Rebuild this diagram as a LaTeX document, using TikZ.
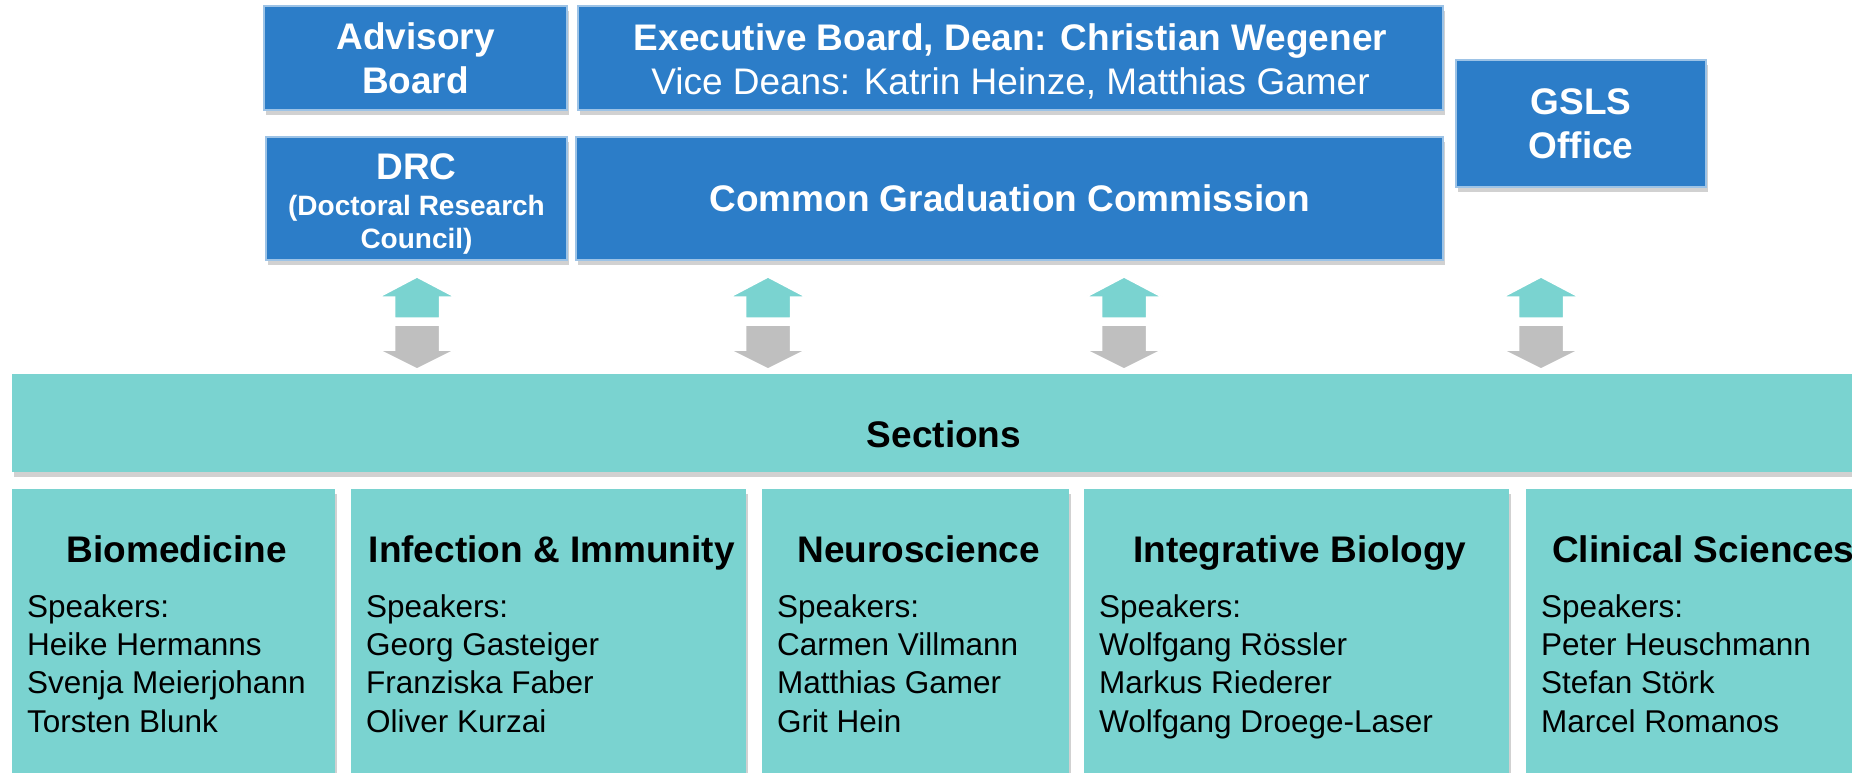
\documentclass[tikz,border=0pt]{standalone}
\usepackage{fontspec}
\setmainfont{Liberation Sans}
\usetikzlibrary{calc,shadows}

\definecolor{gslsblue}{RGB}{44,125,200}
\definecolor{gslsedge}{RGB}{157,195,230}
\definecolor{gslsteal}{RGB}{122,211,208}
\definecolor{gslsgrey}{RGB}{191,191,191}

\begin{document}
\begin{tikzpicture}[x = 1pt, y = -1pt,
	soft shadow/.style = {drop shadow = {shadow xshift = 2pt, shadow yshift = -5pt, fill = black, opacity = 0.18}},
	board/.style = {rectangle, fill = gslsblue, draw = gslsedge, line width = 1.2pt, soft shadow, text = white, align = center, inner sep = 0pt, font = \bfseries\fontsize{37}{44}\selectfont},
	section box/.style = {rectangle, fill = gslsteal, soft shadow, inner sep = 0pt, anchor = north west},
	section title/.style = {anchor = base, font = \bfseries\fontsize{37}{44}\selectfont},
	speaker list/.style = {anchor = north west, align = left, inner sep = 0pt, font = \fontsize{31.5}{38.3}\selectfont}]

	% Definitions

	\def\W{1852}	% Width of picture
	\def\H{773}		% Height of picture
	\def\T{489}		% Top of section boxes

	\useasboundingbox (0, 0) rectangle (\W, \H);
	\clip (0, 0) rectangle (\W, \H);

	% Draw boards

	\node [board, minimum width = 303, minimum height = 104] (advisory) at (415.5, 58) {Advisory\\Board};
	\node [board, minimum width = 865, minimum height = 104] (executive) at (1010.5, 58)
		{\rule{0pt}{33pt}Executive Board, Dean: Christian Wegener\\\mdseries Vice Deans: Katrin Heinze, Matthias Gamer};
	\node [board, minimum width = 301, minimum height = 123, font = \bfseries\fontsize{28}{33}\selectfont] (drc) at (416.5, 198.5)
		{\rule{0pt}{37pt}{\fontsize{37}{44}\selectfont DRC}\\[3pt](Doctoral Research\\Council)};
	\node [board, minimum width = 867, minimum height = 123] (commission) at (1009.5, 198.5) {Common Graduation Commission};
	\node [board, minimum width = 250, minimum height = 127] (office) at (1581, 123.5) {GSLS\\Office};

	% Draw double arrows

	\foreach \x in {417, 768, 1124, 1541} {
		\fill [gslsteal, draw = white, line width = 1.5pt] (\x - 22.5, 318) -- (\x - 22.5, 297) -- (\x - 38, 297) -- (\x, 277)
			-- (\x + 38, 297) -- (\x + 22.5, 297) -- (\x + 22.5, 318) -- cycle;
		\fill [gslsgrey, draw = white, line width = 1.5pt] (\x - 22.5, 325) -- (\x + 22.5, 325) -- (\x + 22.5, 350) -- (\x + 38, 350)
			-- (\x, 369) -- (\x - 38, 350) -- (\x - 22.5, 350) -- cycle;
	}

	% Draw sections bar

	\node [section box, minimum width = 1868, minimum height = 98] (sections) at (12, 374) {};
	\node [section title] (sections-label) at (944, 447) {Sections};

	% Draw section boxes

	\foreach \n/\l/\w/\t/\s in {
		bio/12/323/Biomedicine/{Heike Hermanns\\Svenja Meierjohann\\Torsten Blunk},
		infect/351/395/Infection \& Immunity/{Georg Gasteiger\\Franziska Faber\\Oliver Kurzai},
		neuro/762/307/Neuroscience/{Carmen Villmann\\Matthias Gamer\\Grit Hein},
		integ/1084/425/Integrative Biology/{Wolfgang Rössler\\Markus Riederer\\Wolfgang Droege-Laser},
		clin/1526/348/Clinical Sciences/{Peter Heuschmann\\Stefan Störk\\Marcel Romanos}} {
		\node [section box, minimum width = \w, minimum height = 310] (\n) at (\l, \T) {};
		\node [section title] (\n-title) at ($(\n.north) + (3, 73)$) {\t};
		\node [speaker list] (\n-speakers) at ($(\n.north west) + (15, 101.2)$) {\strut Speakers:\\\s};
	}

\end{tikzpicture}
\end{document}
